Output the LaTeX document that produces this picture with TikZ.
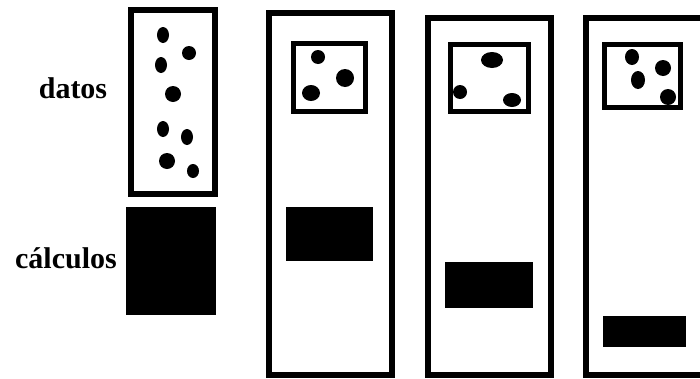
\documentclass[tikz,border=0pt]{standalone}
\usepackage{fontspec}
\setmainfont{Liberation Serif}
\begin{document}
\begin{tikzpicture}[x=1pt,y=-1pt,
  frame/.style={draw=black,line width=6pt},
  inbox/.style={draw=black,line width=5pt},
  blk/.style={fill=black},
  dot/.style={fill=black},
  lbl/.style={font=\fontsize{30}{32}\selectfont\bfseries,inner sep=0pt}]
\useasboundingbox (0,0) rectangle (700,378);
\clip (0,0) rectangle (700,378);
% column 1
\draw[frame] (131,10) rectangle (215,194);
\fill[dot] (163,35) ellipse (6 and 8);
\fill[dot] (189,53) ellipse (7 and 7);
\fill[dot] (161,65) ellipse (6 and 8);
\fill[dot] (173,94) ellipse (8 and 8);
\fill[dot] (163,129) ellipse (6 and 8);
\fill[dot] (187,137) ellipse (6 and 8);
\fill[dot] (167,161) ellipse (8 and 8);
\fill[dot] (193,171) ellipse (6 and 7);
\fill[blk] (126,207) rectangle (216,315);
\node[lbl] (datos) at (73,88) {datos};
\node[lbl] (calc) at (66,258) {cálculos};
% column 2
\draw[frame] (269,13) rectangle (392,375);
\draw[inbox] (293.5,43.5) rectangle (365.5,111.5);
\fill[dot] (318,57) ellipse (7 and 7);
\fill[dot] (345,78) ellipse (9 and 9);
\fill[dot] (311,93) ellipse (9 and 8);
\fill[blk] (286,207) rectangle (373,261);
% column 3
\draw[frame] (428,18) rectangle (551,375);
\draw[inbox] (450.5,44.5) rectangle (528.5,111.5);
\fill[dot] (492,60) ellipse (11 and 8);
\fill[dot] (460,92) ellipse (7 and 7);
\fill[dot] (512,100) ellipse (9 and 7);
\fill[blk] (445,262) rectangle (533,308);
% column 4
\draw[frame] (586,18) rectangle (712,375);
\draw[inbox] (604.5,44.5) rectangle (680.5,107.5);
\fill[dot] (632,57) ellipse (7 and 8);
\fill[dot] (663,68) ellipse (8 and 8);
\fill[dot] (638,80) ellipse (7 and 9);
\fill[dot] (668,97) ellipse (8 and 8);
\fill[blk] (603,316) rectangle (686,347);
\end{tikzpicture}
\end{document}
